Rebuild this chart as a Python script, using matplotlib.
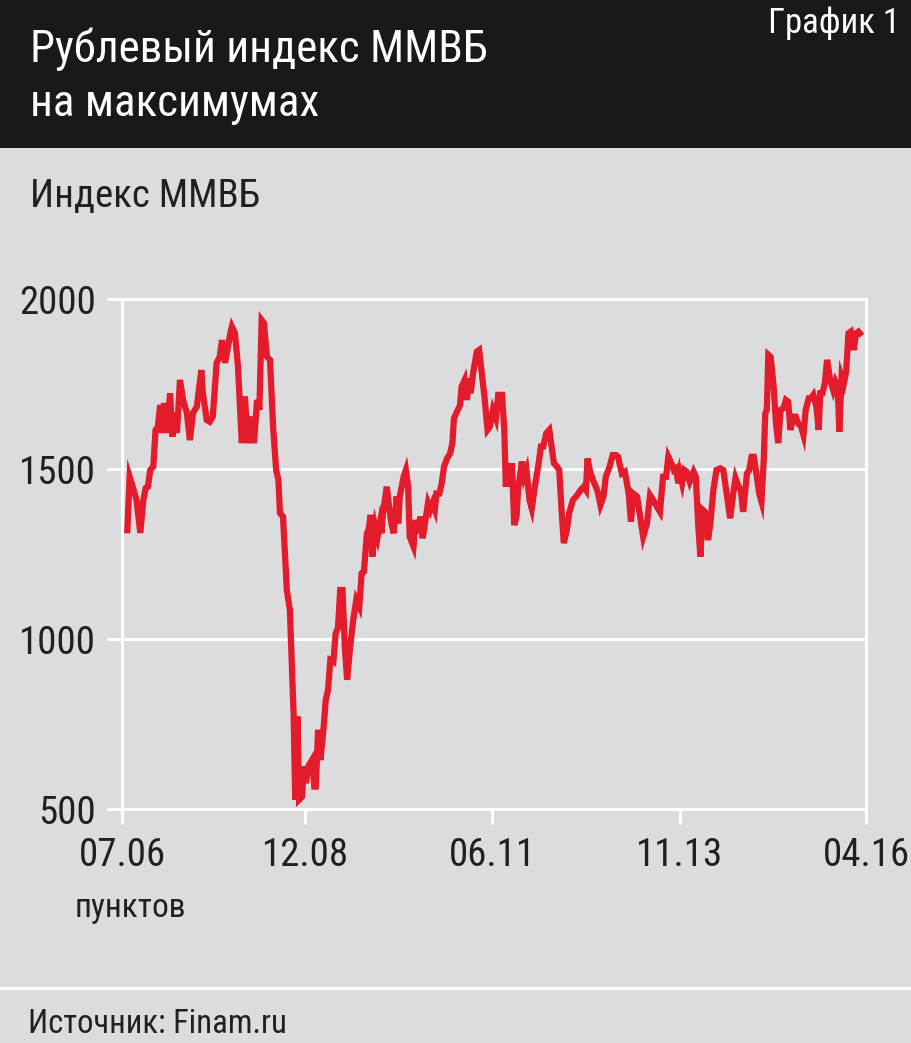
import matplotlib
matplotlib.use('Agg')
import matplotlib.pyplot as plt
from matplotlib.patches import Rectangle
from matplotlib.lines import Line2D

plt.rcParams['font.family'] = ['Roboto Condensed', 'DejaVu Sans']

# decimal years and MICEX index values
years = [
    2006.57, 2006.60, 2006.64, 2006.69, 2006.74, 2006.78, 2006.81, 2006.84, 2006.87, 2006.91,
    2006.94, 2006.97, 2007.00, 2007.02, 2007.05, 2007.09, 2007.13, 2007.16, 2007.19, 2007.22,
    2007.26, 2007.30, 2007.35, 2007.39, 2007.43, 2007.48, 2007.54, 2007.56, 2007.61, 2007.65,
    2007.69, 2007.74, 2007.78, 2007.81, 2007.85, 2007.89, 2007.92, 2007.94, 2007.98, 2008.02,
    2008.07, 2008.11, 2008.15, 2008.20, 2008.23, 2008.27, 2008.30, 2008.33, 2008.36, 2008.40,
    2008.44, 2008.48, 2008.52, 2008.55, 2008.57, 2008.61, 2008.66, 2008.70, 2008.75, 2008.77,
    2008.80, 2008.82, 2008.86, 2008.88, 2008.91, 2008.94, 2008.99, 2009.02, 2009.04, 2009.07,
    2009.10, 2009.14, 2009.17, 2009.20, 2009.23, 2009.27, 2009.30, 2009.33, 2009.36, 2009.39,
    2009.42, 2009.45, 2009.49, 2009.53, 2009.57, 2009.61, 2009.64, 2009.67, 2009.71, 2009.73,
    2009.76, 2009.78, 2009.82, 2009.85, 2009.88, 2009.90, 2009.92, 2009.97, 2010.00, 2010.03,
    2010.06, 2010.10, 2010.12, 2010.14, 2010.19, 2010.22, 2010.25, 2010.27, 2010.32, 2010.35,
    2010.38, 2010.41, 2010.44, 2010.47, 2010.51, 2010.54, 2010.57, 2010.60, 2010.62, 2010.66,
    2010.69, 2010.72, 2010.76, 2010.80, 2010.83, 2010.85, 2010.89, 2010.93, 2010.95, 2010.99,
    2011.02, 2011.05, 2011.07, 2011.10, 2011.15, 2011.18, 2011.21, 2011.25, 2011.29, 2011.32,
    2011.36, 2011.40, 2011.43, 2011.48, 2011.51, 2011.53, 2011.56, 2011.59, 2011.61, 2011.64,
    2011.67, 2011.69, 2011.74, 2011.77, 2011.80, 2011.84, 2011.87, 2011.91, 2011.96, 2011.99,
    2012.02, 2012.06, 2012.10, 2012.13, 2012.16, 2012.20, 2012.23, 2012.26, 2012.29, 2012.33,
    2012.36, 2012.41, 2012.45, 2012.48, 2012.51, 2012.55, 2012.58, 2012.60, 2012.63, 2012.67,
    2012.71, 2012.74, 2012.77, 2012.81, 2012.84, 2012.89, 2012.93, 2012.97, 2013.00, 2013.05,
    2013.09, 2013.14, 2013.17, 2013.20, 2013.25, 2013.29, 2013.33, 2013.38, 2013.42, 2013.46,
    2013.51, 2013.55, 2013.59, 2013.63, 2013.66, 2013.70, 2013.73, 2013.76, 2013.79, 2013.81,
    2013.84, 2013.87, 2013.90, 2013.94, 2013.99, 2014.02, 2014.05, 2014.08, 2014.11, 2014.14,
    2014.18, 2014.21, 2014.25, 2014.29, 2014.34, 2014.38, 2014.43, 2014.47, 2014.51, 2014.54,
    2014.58, 2014.61, 2014.64, 2014.69, 2014.72, 2014.75, 2014.78, 2014.82, 2014.85, 2014.88,
    2014.91, 2014.93, 2014.95, 2014.97, 2015.00, 2015.04, 2015.07, 2015.10, 2015.13, 2015.17,
    2015.20, 2015.23, 2015.26, 2015.30, 2015.33, 2015.36, 2015.40, 2015.43, 2015.46, 2015.50,
    2015.53, 2015.56, 2015.60, 2015.63, 2015.65, 2015.68, 2015.71, 2015.74, 2015.78, 2015.82,
    2015.85, 2015.88, 2015.90, 2015.93, 2015.96, 2015.99, 2016.02, 2016.05, 2016.09, 2016.12,
    2016.15, 2016.17,
]
index_values = [
    1320, 1477, 1448, 1409, 1312, 1409, 1444, 1448, 1497, 1507,
    1615, 1624, 1688, 1606, 1694, 1606, 1723, 1595, 1665, 1606,
    1762, 1703, 1665, 1585, 1665, 1683, 1791, 1723, 1644, 1639,
    1654, 1812, 1830, 1879, 1812, 1860, 1900, 1919, 1900, 1801,
    1576, 1713, 1576, 1654, 1576, 1703, 1674, 1938, 1929, 1830,
    1821, 1624, 1497, 1468, 1370, 1360, 1144, 1085, 772, 527,
    772, 527, 536, 625, 576, 625, 644, 566, 566, 733,
    644, 733, 821, 850, 938, 933, 1017, 1032, 1144, 1144,
    977, 880, 977, 1056, 1115, 1095, 1193, 1198, 1311, 1321,
    1365, 1242, 1330, 1301, 1340, 1311, 1370, 1448, 1389, 1340,
    1311, 1419, 1340, 1419, 1477, 1497, 1448, 1301, 1272, 1350,
    1311, 1360, 1296, 1340, 1399, 1380, 1399, 1380, 1428, 1428,
    1458, 1507, 1531, 1546, 1576, 1649, 1669, 1688, 1742, 1762,
    1703, 1767, 1723, 1781, 1845, 1850, 1791, 1713, 1615, 1624,
    1674, 1649, 1718, 1718, 1615, 1448, 1517, 1448, 1517, 1335,
    1360, 1438, 1522, 1477, 1497, 1409, 1384, 1448, 1517, 1566,
    1566, 1605, 1615, 1566, 1517, 1507, 1497, 1380, 1282, 1321,
    1370, 1409, 1419, 1428, 1438, 1448, 1438, 1531, 1497, 1468,
    1448, 1428, 1394, 1419, 1477, 1507, 1541, 1541, 1536, 1487,
    1492, 1428, 1345, 1428, 1419, 1360, 1301, 1340, 1423, 1409,
    1389, 1374, 1477, 1477, 1536, 1517, 1497, 1502, 1458, 1487,
    1458, 1497, 1492, 1463, 1492, 1477, 1340, 1242, 1380, 1374,
    1291, 1340, 1438, 1497, 1502, 1497, 1419, 1355, 1428, 1473,
    1448, 1438, 1374, 1487, 1497, 1536, 1536, 1477, 1428, 1404,
    1527, 1664, 1674, 1836, 1830, 1742, 1634, 1576, 1674, 1679,
    1703, 1698, 1615, 1654, 1654, 1634, 1624, 1600, 1674, 1708,
    1708, 1718, 1683, 1615, 1723, 1723, 1752, 1821, 1762, 1732,
    1757, 1742, 1610, 1772, 1752, 1786, 1899, 1904, 1850, 1899,
    1904, 1899,
]
tick_pos = [2006.5, 2008.9, 2011.35, 2013.81, 2016.25]
tick_labels = ['07.06', '12.08', '06.11', '11.13', '04.16']
y_ticks = [500, 1000, 1500, 2000]

bg = '#dcdcde'
ink = '#231f20'
red = '#e31b2a'

W, H = 912, 1043
fig = plt.figure(figsize=(W / 100, H / 100), dpi=100)
fig.patch.set_facecolor(bg)

# black title band
fig.add_artist(Rectangle((0, 1 - 148 / H), 1, 148 / H, transform=fig.transFigure,
                         facecolor='#1c1819', edgecolor='none'))
fig.text(30 / W, 1 - 62 / H, 'Рублевый индекс ММВБ', color='white', fontsize=32.5, va='baseline')
fig.text(30 / W, 1 - 116 / H, 'на максимумах', color='white', fontsize=32.5, va='baseline')
fig.text(900 / W, 1 - 33 / H, 'График 1', color='white', fontsize=25, va='baseline', ha='right')

fig.text(30 / W, 1 - 207 / H, 'Индекс ММВБ', color=ink, fontsize=28, va='baseline')
fig.text(75 / W, 1 - 917 / H, 'пунктов', color=ink, fontsize=24, va='baseline')
fig.text(28 / W, 1 - 1033 / H, 'Источник: Finam.ru', color=ink, fontsize=23.5, va='baseline')
fig.add_artist(Line2D([0, 1], [1 - 988 / H, 1 - 988 / H], transform=fig.transFigure,
                      color='white', lw=2.2))

ax = fig.add_axes([122 / W, 1 - 809 / H, 744 / W, 510 / H])
ax.set_facecolor(bg)
ax.plot(years, index_values, color=red, lw=4.5, solid_joinstyle='miter', zorder=3)
ax.set_xlim(2006.5, 2016.25)
ax.set_ylim(500, 2000)
ax.set_yticks(y_ticks)
ax.set_xticks(tick_pos)
ax.set_xticklabels(tick_labels)
ax.grid(axis='y', color='white', lw=2.2)
for gl in ax.get_ygridlines():
    gl.set_clip_on(False)
for side in ['left', 'right', 'bottom']:
    ax.spines[side].set_color('white')
    ax.spines[side].set_linewidth(2.2)
ax.spines['top'].set_visible(False)
ax.tick_params(axis='both', colors='white', length=10.5, width=2.2, labelsize=28,
               labelcolor=ink)
ax.tick_params(axis='y', pad=8)
ax.tick_params(axis='x', pad=10)

plt.savefig('out.png', dpi=100, facecolor=bg)
